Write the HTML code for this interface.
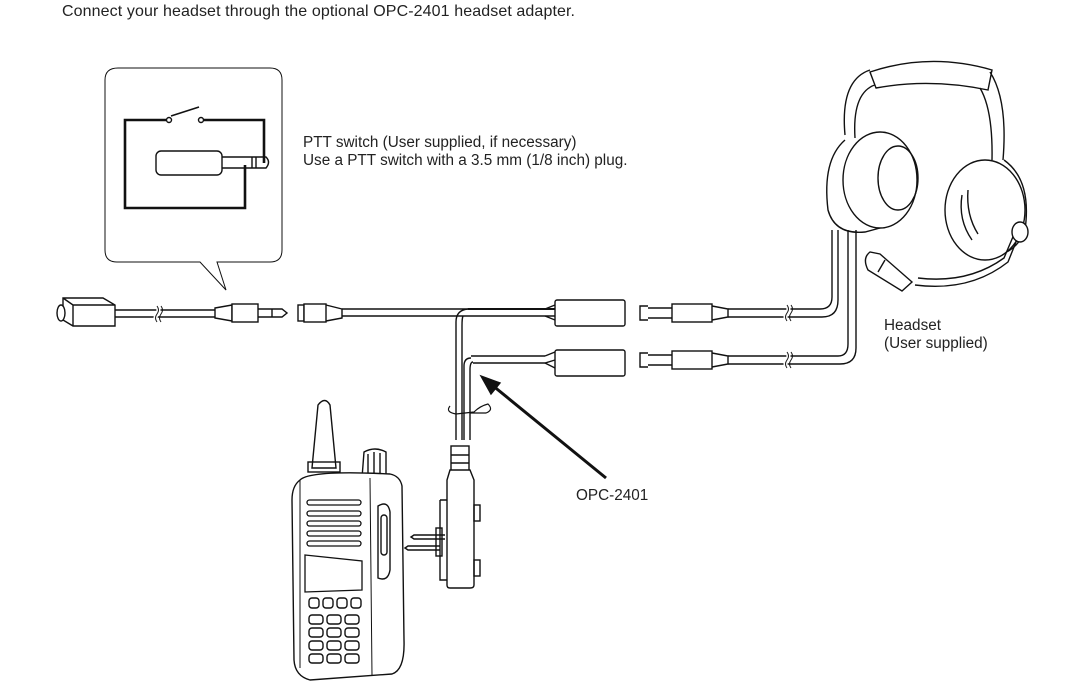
<!DOCTYPE html>
<html><head><meta charset="utf-8"><style>
body{margin:0;background:#fff;width:1072px;height:698px;overflow:hidden;font-family:"Liberation Sans",sans-serif;}
svg{position:absolute;left:0;top:0}
</style></head><body>
<svg width="1072" height="698" viewBox="0 0 1072 698" font-family="Liberation Sans, sans-serif" fill="none" stroke="#111" stroke-width="1.4">
<text x="62" y="16" font-size="16" fill="#222" stroke="none" textLength="513">Connect your headset through the optional OPC-2401 headset adapter.</text>
<text x="303" y="147" font-size="15.3" fill="#222" stroke="none">PTT switch (User supplied, if necessary)</text>
<text x="303" y="165" font-size="15.3" fill="#222" stroke="none">Use a PTT switch with a 3.5 mm (1/8 inch) plug.</text>
<text x="884" y="330" font-size="15.3" fill="#222" stroke="none">Headset</text>
<text x="884" y="348" font-size="15.3" fill="#222" stroke="none">(User supplied)</text>
<text x="576" y="500" font-size="15.3" fill="#222" stroke="none">OPC-2401</text>

<!-- callout -->
<path d="M118 68 H270 Q282 68 282 80 V250 Q282 262 270 262 H217 L226 290 L200 262 H117 Q105 262 105 250 V80 Q105 68 118 68 Z" stroke-width="1"/>
<path d="M169 120 H125 V208 H245 V165 M201 120 H264 V163" stroke-width="2.6"/>
<line x1="171" y1="116" x2="199" y2="107" stroke-width="1.6"/>
<circle cx="169" cy="120" r="2.5" fill="#fff" stroke-width="1.4"/>
<circle cx="201" cy="120" r="2.5" fill="#fff" stroke-width="1.4"/>
<rect x="156" y="151" width="66" height="24" rx="5" fill="#fff"/>
<path d="M222 157 H266 Q271 162 266 168 H222"/>
<line x1="252" y1="157" x2="252" y2="168"/>
<line x1="256" y1="157" x2="256" y2="168"/>

<!-- left connector + cable -->
<path d="M63 298 H103 L115 305 V326 H73 L63 320 Z M63 298 L73 305 H115 M73 305 V326"/>
<ellipse cx="61" cy="313" rx="4" ry="8" fill="#fff"/>
<path d="M115 310 H215 M115 317 H215"/>
<path d="M157 306 q3 4 0 8 q-3 4 0 8" stroke="#fff" stroke-width="4"/>
<path d="M157 306 q3 4 0 8 q-3 4 0 8 M161 306 q3 4 0 8 q-3 4 0 8" stroke-width="1"/>
<path d="M215 308 L232 305 V321 L215 318 Z"/>
<rect x="232" y="304" width="26" height="18" fill="#fff"/>
<path d="M258 309 H282 L287 313 L282 317 H258"/>
<line x1="272" y1="309" x2="272" y2="317"/>
<rect x="298" y="305" width="6" height="16"/>
<rect x="304" y="304" width="22" height="18" fill="#fff"/>
<path d="M326 305 L342 309 V318 L326 321"/>
<path d="M342 309 H555 M342 316 H555"/>
<path d="M468 309 Q456 310 456 322 V440 M463 316 Q462 318 462 326 V440" />
<path d="M468 309 H555" stroke-width="2"/>
<rect x="555" y="300" width="70" height="26" rx="2" fill="#fff"/>
<path d="M471 358 Q464 358 464 366 V440 M473 362 Q470 362 470 370 V440"/>
<path d="M471 356 H545 M473 363 H545 L555 360"/>
<path d="M545 356 L555 352 M545 363 L555 368"/>
<rect x="555" y="350" width="70" height="26" rx="2" fill="#fff"/>
<path d="M545 309 L555 305 M545 316 L555 320"/>

<!-- arrow -->
<line x1="606" y1="478" x2="492" y2="385" stroke-width="3"/>
<polygon points="481,376 500,383 491,394" fill="#111"/>

<!-- adapter -->
<path d="M450 406 Q445 412 456 414 L474 412 Q480 406 488 404 Q494 410 486 413 L470 413" stroke-width="1.2"/>
<rect x="451" y="446" width="18" height="25" fill="#fff"/>
<line x1="451" y1="455" x2="469" y2="455"/><line x1="451" y1="463" x2="469" y2="463"/>
<path d="M450 470 H470 L474 480 V585 Q474 588 470 588 H450 Q447 588 447 585 V480 Z" fill="#fff"/>
<path d="M440 500 V580 H447 M440 500 H447"/>
<rect x="474" y="505" width="6" height="16" /><rect x="474" y="560" width="6" height="16"/>
<path d="M445 535 H414 L411 537 L414 539 H445 M440 546 H408 L405 548 L408 550 H440"/>
<rect x="436" y="528" width="6" height="28"/>

<!-- radio -->
<path d="M312 468 L318 405 Q325 396 330 405 L336 468 Z" fill="#fff"/>
<rect x="308" y="462" width="32" height="10"/>
<path d="M362 478 L364 452 Q375 446 386 452 L386 478 Z" fill="#fff"/>
<line x1="368" y1="454" x2="368" y2="476"/><line x1="374" y1="452" x2="374" y2="476"/><line x1="380" y1="453" x2="380" y2="476"/>
<path d="M300 480 Q310 470 390 474 Q400 476 402 486 L404 640 Q405 670 392 674 L310 680 Q295 676 294 660 L292 500 Q292 486 300 480 Z" fill="#fff"/>
<path d="M300 480 L300 668 M370 478 L372 676" stroke-width="1"/>
<path d="M378 506 Q388 500 390 512 V570 Q388 582 378 578 Z"/>
<rect x="381" y="515" width="6" height="40" rx="3"/>
<g stroke-width="1.3">
<rect x="307" y="500" width="54" height="5" rx="2.5"/><rect x="307" y="511" width="54" height="5" rx="2.5"/>
<rect x="307" y="521" width="54" height="5" rx="2.5"/><rect x="307" y="531" width="54" height="5" rx="2.5"/>
<rect x="307" y="541" width="54" height="5" rx="2.5"/>
<path d="M305 555 L362 561 V590 L305 592 Z"/>
</g>
<g stroke-width="1.4">
<rect x="309" y="598" width="10" height="10" rx="3"/><rect x="323" y="598" width="10" height="10" rx="3"/><rect x="337" y="598" width="10" height="10" rx="3"/><rect x="351" y="598" width="10" height="10" rx="3"/>
<rect x="309" y="615" width="14" height="9" rx="3"/><rect x="327" y="615" width="14" height="9" rx="3"/><rect x="345" y="615" width="14" height="9" rx="3"/>
<rect x="309" y="628" width="14" height="9" rx="3"/><rect x="327" y="628" width="14" height="9" rx="3"/><rect x="345" y="628" width="14" height="9" rx="3"/>
<rect x="309" y="641" width="14" height="9" rx="3"/><rect x="327" y="641" width="14" height="9" rx="3"/><rect x="345" y="641" width="14" height="9" rx="3"/>
<rect x="309" y="654" width="14" height="9" rx="3"/><rect x="327" y="654" width="14" height="9" rx="3"/><rect x="345" y="654" width="14" height="9" rx="3"/>
</g>

<!-- headset plugs -->
<g>
<path d="M648 306 H640 V320 H648"/><path d="M648 308 H672 M648 318 H672"/>
<rect x="672" y="304" width="40" height="18" fill="#fff"/>
<path d="M712 306 L728 309 V317 L712 320"/>
<path d="M728 309 H820 Q832 309 832 297 V230 M728 317 H822 Q838 317 838 300 V230"/>
<path d="M787 305 q3 4 0 8 q-3 4 0 8" stroke="#fff" stroke-width="4"/>
<path d="M787 305 q3 4 0 8 q-3 4 0 8 M791 305 q3 4 0 8 q-3 4 0 8" stroke-width="1"/>
<path d="M648 353 H640 V367 H648"/><path d="M648 355 H672 M648 365 H672"/>
<rect x="672" y="351" width="40" height="18" fill="#fff"/>
<path d="M712 353 L728 356 V364 L712 367"/>
<path d="M728 356 H838 Q848 356 848 344 V230 M728 364 H840 Q856 364 856 348 V230"/>
<path d="M787 352 q3 4 0 8 q-3 4 0 8" stroke="#fff" stroke-width="4"/>
<path d="M787 352 q3 4 0 8 q-3 4 0 8 M791 352 q3 4 0 8 q-3 4 0 8" stroke-width="1"/>
</g>

<!-- headset -->
<path d="M845 135 Q840 80 870 70 M855 138 Q852 90 878 84" stroke-width="1.4"/>
<path d="M870 72 Q930 52 992 70 L988 90 Q930 78 876 88 Z" fill="#fff"/>
<path d="M990 72 Q1008 100 1003 160 M980 88 Q993 110 992 160"/>
<path d="M845 140 Q822 160 828 210 Q835 235 865 232 L880 228" />
<ellipse cx="880" cy="180" rx="37" ry="48" fill="#fff"/>
<ellipse cx="898" cy="178" rx="20" ry="32"/>
<path d="M1004 160 Q1032 180 1025 230 Q1015 256 990 255"/>
<ellipse cx="985" cy="210" rx="40" ry="50" fill="#fff"/>
<path d="M962 195 Q958 220 972 240 M968 190 Q966 215 978 234"/>
<path d="M1020 232 L1008 262 Q970 292 915 285 M1015 232 L1004 258 Q968 284 918 278"/>
<ellipse cx="1020" cy="232" rx="8" ry="10" fill="#fff"/>
<path d="M870 252 Q862 258 868 270 L902 291 L912 282 L880 254 Z" fill="#fff"/>
<line x1="885" y1="260" x2="878" y2="272"/>
</svg>
</body></html>
